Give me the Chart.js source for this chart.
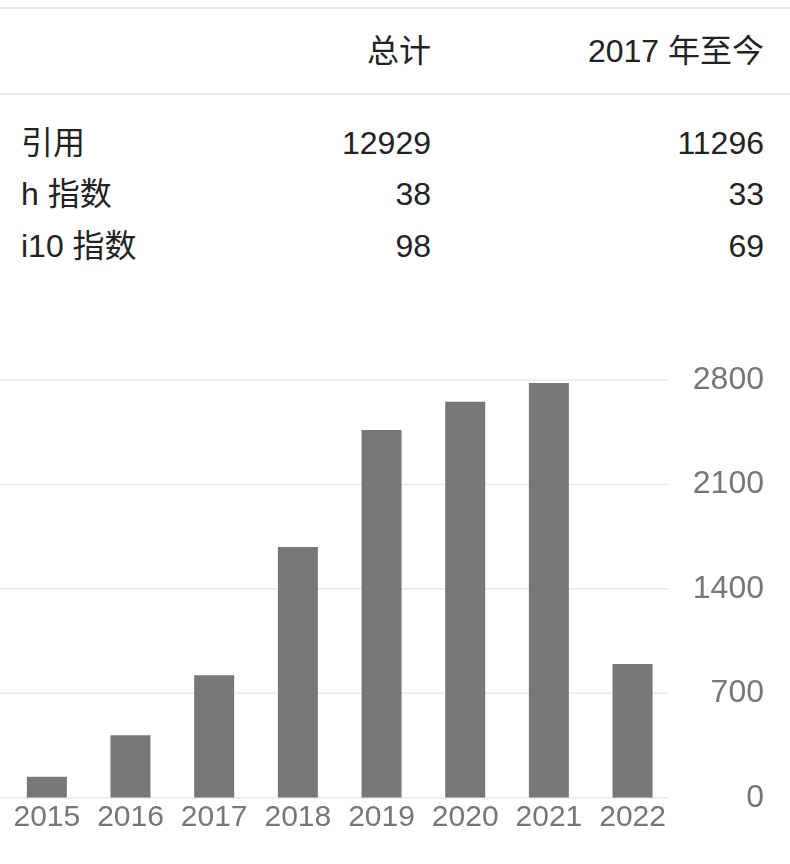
<!DOCTYPE html>
<html>
<head>
<meta charset="utf-8">
<script src="https://cdn.jsdelivr.net/npm/chart.js@4/dist/chart.umd.min.js"></script>
<style>
html,body{margin:0;padding:0;background:#fff;width:790px;height:864px;overflow:hidden;}
body{position:relative;font-family:"Liberation Sans",Arial,"Noto Sans CJK SC",sans-serif;color:#222;}
.hr{position:absolute;left:0;width:790px;height:2px;background:#e8e8e8;}
.t{position:absolute;font-size:32px;line-height:32px;white-space:nowrap;}
.l{left:21px;}
.c1{right:359px;text-align:right;}
.c2{right:26px;text-align:right;}
#wrap{position:absolute;left:0;top:330px;width:790px;height:534px;}
</style>
</head>
<body>
<div class="hr" style="top:7px"></div>
<div class="hr" style="top:93px"></div>
<div id="table"></div>
<div id="wrap"><canvas id="c" width="790" height="534"></canvas></div>
<script>
// ---- data ----
const headers = ['总计', '2017 年至今'];
const rowLabels = ['引用', 'h 指数', 'i10 指数'];
const totals = [12929, 38, 98];
const since2017 = [11296, 33, 69];

const years = ['2015', '2016', '2017', '2018', '2019', '2020', '2021', '2022'];
const citations = [141, 418, 820, 1680, 2465, 2655, 2780, 896];
const yTicks = [0, 700, 1400, 2100, 2800];

// ---- table ----
const table = document.getElementById('table');
function addText(txt, cls, top) {
  const d = document.createElement('div');
  d.className = 't ' + cls;
  d.style.top = top + 'px';
  d.textContent = txt;
  table.appendChild(d);
}
const headerTop = 35;
addText(headers[0], 'c1', headerTop);
addText(headers[1], 'c2', headerTop);
const rowTops = [127, 178, 229.5];
rowLabels.forEach((lab, i) => {
  addText(lab, 'l', rowTops[i]);
  addText(String(totals[i]), 'c1', rowTops[i]);
  addText(String(since2017[i]), 'c2', rowTops[i]);
});

// ---- chart ----
const gridPlugin = {
  id: 'customGrid',
  beforeDatasetsDraw(chart) {
    const y = chart.scales.y;
    const ctx = chart.ctx;
    ctx.save();
    ctx.strokeStyle = '#e9e9e9';
    ctx.lineWidth = 1.5;
    y.ticks.forEach(t => {
      const py = y.getPixelForValue(t.value);
      ctx.beginPath();
      ctx.moveTo(0, py);
      ctx.lineTo(chart.chartArea.right - 6, py);
      ctx.stroke();
    });
    ctx.restore();
  }
};

new Chart(document.getElementById('c'), {
  type: 'bar',
  data: {
    labels: years,
    datasets: [{
      data: citations,
      backgroundColor: '#777777',
      borderWidth: 0,
      barPercentage: 0.478,
      categoryPercentage: 1
    }]
  },
  options: {
    responsive: false,
    animation: false,
    devicePixelRatio: 1,
    layout: { padding: { left: 5, right: 26, top: 50, bottom: 0 } },
    plugins: { legend: { display: false }, tooltip: { enabled: false } },
    scales: {
      x: {
        grid: { display: false, drawTicks: false },
        border: { display: false },
        ticks: {
          color: '#777777',
          font: { family: '"Liberation Sans", Arial, sans-serif', size: 30 },
          padding: 2,
          maxRotation: 0,
          autoSkip: false
        },
        afterFit(s) { s.height = 66.3; }
      },
      y: {
        position: 'right',
        min: 0,
        max: 2800,
        afterBuildTicks(s) { s.ticks = yTicks.map(v => ({ value: v })); },
        grid: { display: false, drawTicks: false },
        border: { display: false },
        ticks: {
          color: '#777777',
          font: { family: '"Liberation Sans", Arial, sans-serif', size: 32 },
          crossAlign: 'far',
          padding: 0,
          callback: (v) => String(v)
        },
        afterFit(s) { s.width = 89.6; }
      }
    }
  },
  plugins: [gridPlugin]
});
</script>
</body>
</html>
